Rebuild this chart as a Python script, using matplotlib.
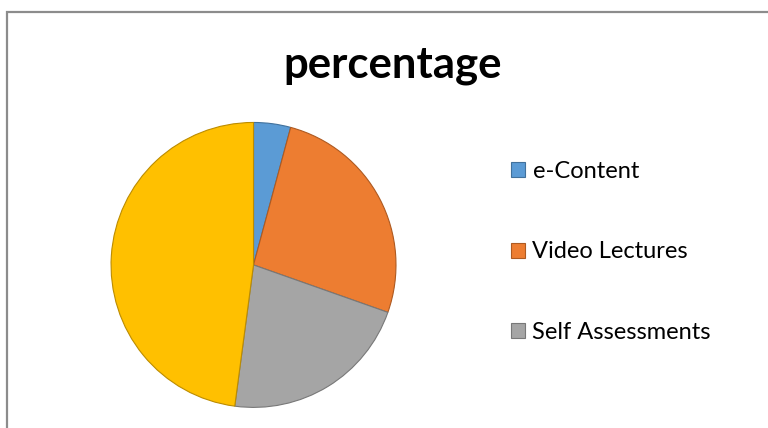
import matplotlib.pyplot as plt
from matplotlib.patches import Rectangle

labels = ['e-Content', 'Video Lectures', 'Self Assessments', 'Other']
values = [4.2, 26.2, 21.7, 47.9]
colors = ['#5B9BD5', '#ED7D31', '#A5A5A5', '#FFC000']
edges = ['#41719C', '#AE5A21', '#787878', '#BC8C00']

plt.rcParams['font.family'] = ['Lato', 'DejaVu Sans']

fig = plt.figure(figsize=(7.68, 4.28), dpi=100)

# chart border (runs past right and bottom edges like the screenshot)
fig.patches.append(Rectangle((6.5 / 768, -0.1), 1.0, 1 - 11.5 / 428 + 0.1,
                             transform=fig.transFigure, fill=False,
                             edgecolor='#8C8C8C', linewidth=1.6))

fig.text(393 / 768, 1 - 65 / 428, 'percentage', ha='center', va='center',
         fontsize=31.5, fontweight='bold', color='black')

ax = fig.add_axes([0.1446, 0.048, 0.371, 0.666])
wedges, _ = ax.pie(values, colors=colors, startangle=90, counterclock=False,
                   wedgeprops=dict(linewidth=0.8))
for w, ec in zip(wedges, edges):
    w.set_edgecolor(ec)
ax.set_xlim(-1, 1)
ax.set_ylim(-1, 1)
ax.set_aspect('equal')

leg = fig.legend(wedges[:3], labels[:3], loc='upper left',
                 bbox_to_anchor=(490 / 768, 1 - 139.5 / 428), frameon=False,
                 fontsize=17, labelspacing=2.53, handlelength=0.6,
                 handleheight=0.6, handletextpad=0.3)

fig.savefig('out.png', dpi=100)
